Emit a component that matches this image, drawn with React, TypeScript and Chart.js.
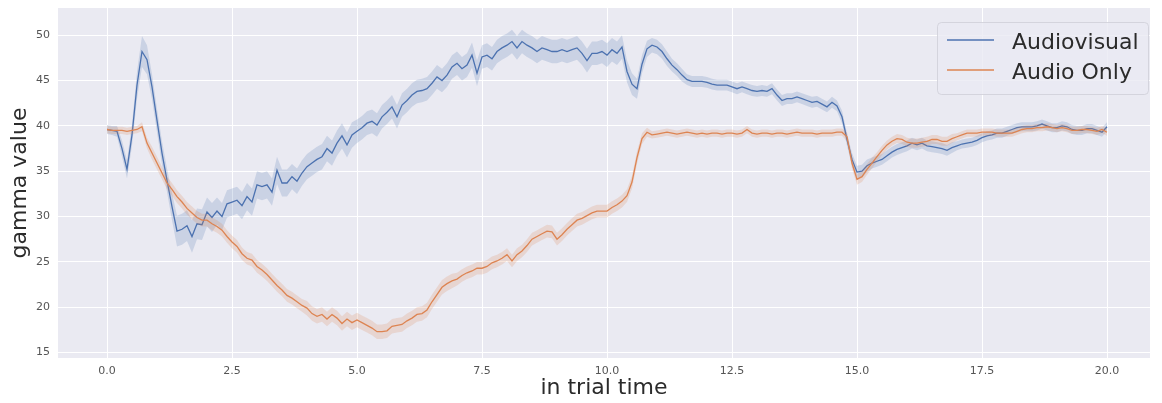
import { useEffect, useRef } from "react";
import { Chart, registerables } from "chart.js";

Chart.register(...registerables);

// Sampling grid of the trial (seconds)
const T_START = 0;
const T_STEP = 0.1;

const seriesNames = ["Audiovisual", "Audio Only"];
const xTitle = "in trial time";
const yTitle = "gamma value";

const xTickValues = [0, 2.5, 5, 7.5, 10, 12.5, 15, 17.5, 20];
const xTickLabels = ["0.0", "2.5", "5.0", "7.5", "10.0", "12.5", "15.0", "17.5", "20.0"];
const yTickValues = [15, 20, 25, 30, 35, 40, 45, 50];
const yTickLabels = ["15", "20", "25", "30", "35", "40", "45", "50"];

// Mean gamma value per time step
const audiovisualMean = [
  39.6, 39.5, 39.4, 37.5, 35.2, 39.0, 44.5, 48.2, 47.3, 44.3,
  40.6, 37.0, 34.0, 31.1, 28.4, 28.6, 29.0, 27.8, 29.2, 29.1,
  30.5, 29.9, 30.6, 30.0, 31.4, 31.6, 31.8, 31.2, 32.2, 31.6,
  33.5, 33.3, 33.5, 32.7, 35.1, 33.7, 33.7, 34.4, 33.9, 34.8,
  35.5, 35.9, 36.3, 36.6, 37.5, 37.0, 38.1, 38.9, 37.9, 39.0,
  39.4, 39.8, 40.3, 40.5, 40.1, 41.0, 41.5, 42.1, 41.0, 42.3,
  42.8, 43.4, 43.8, 43.9, 44.1, 44.7, 45.4, 45.0, 45.6, 46.5,
  46.9, 46.3, 46.7, 47.8, 45.8, 47.6, 47.8, 47.4, 48.2, 48.6,
  48.9, 49.3, 48.6, 49.3, 48.9, 48.6, 48.2, 48.6, 48.4, 48.2,
  48.2, 48.4, 48.2, 48.4, 48.6, 48.0, 47.2, 48.0, 48.0, 48.2,
  47.8, 48.4, 48.0, 48.7, 46.0, 44.6, 44.1, 46.8, 48.5, 48.9,
  48.7, 48.2, 47.4, 46.7, 46.2, 45.6, 45.1, 44.9, 44.9, 44.9,
  44.8, 44.6, 44.5, 44.5, 44.5, 44.3, 44.1, 44.3, 44.1, 43.9,
  43.8, 43.9, 43.8, 44.1, 43.4, 42.8, 43.0, 43.0, 43.2, 43.0,
  42.8, 42.6, 42.7, 42.4, 42.1, 42.6, 42.2, 41.0, 38.5, 36.3,
  34.9, 35.0, 35.6, 35.9, 36.1, 36.3, 36.7, 37.1, 37.4, 37.6,
  37.8, 38.1, 37.9, 38.1, 37.8, 37.7, 37.6, 37.5, 37.3, 37.6,
  37.8, 38.0, 38.1, 38.2, 38.4, 38.7, 38.9, 39.0, 39.2, 39.2,
  39.4, 39.6, 39.8, 39.9, 39.9, 39.9, 40.0, 40.2, 40.0, 39.8,
  39.8, 40.0, 39.9, 39.6, 39.5, 39.5, 39.7, 39.7, 39.5, 39.3,
  39.9,
];

// Half-width of the confidence band
const audiovisualCI = [
  0.5, 0.5, 0.6, 0.9, 1.0, 1.2, 1.5, 1.7, 1.6, 1.4,
  1.3, 1.3, 1.3, 1.5, 1.7, 1.7, 1.7, 1.8, 1.7, 1.7,
  1.6, 1.6, 1.5, 1.5, 1.5, 1.5, 1.5, 1.5, 1.5, 1.5,
  1.5, 1.5, 1.5, 1.5, 1.5, 1.5, 1.5, 1.4, 1.4, 1.4,
  1.4, 1.4, 1.4, 1.4, 1.4, 1.4, 1.4, 1.4, 1.4, 1.4,
  1.3, 1.3, 1.3, 1.3, 1.3, 1.3, 1.3, 1.3, 1.3, 1.3,
  1.3, 1.3, 1.3, 1.3, 1.3, 1.3, 1.3, 1.3, 1.3, 1.3,
  1.3, 1.3, 1.3, 1.4, 1.4, 1.3, 1.3, 1.3, 1.3, 1.3,
  1.3, 1.3, 1.3, 1.3, 1.3, 1.3, 1.3, 1.3, 1.3, 1.3,
  1.3, 1.3, 1.3, 1.3, 1.3, 1.3, 1.3, 1.3, 1.3, 1.3,
  1.3, 1.3, 1.3, 1.3, 1.2, 1.2, 1.1, 1.0, 0.9, 0.8,
  0.8, 0.8, 0.8, 0.7, 0.7, 0.7, 0.6, 0.6, 0.6, 0.6,
  0.6, 0.6, 0.6, 0.6, 0.6, 0.6, 0.6, 0.6, 0.6, 0.6,
  0.6, 0.6, 0.6, 0.6, 0.6, 0.6, 0.6, 0.6, 0.6, 0.6,
  0.6, 0.6, 0.6, 0.6, 0.6, 0.6, 0.6, 0.7, 0.7, 0.7,
  0.7, 0.7, 0.7, 0.6, 0.6, 0.6, 0.6, 0.6, 0.6, 0.6,
  0.6, 0.6, 0.6, 0.6, 0.6, 0.6, 0.6, 0.6, 0.6, 0.6,
  0.5, 0.5, 0.5, 0.5, 0.5, 0.5, 0.5, 0.5, 0.5, 0.5,
  0.5, 0.5, 0.5, 0.5, 0.5, 0.5, 0.5, 0.5, 0.5, 0.5,
  0.5, 0.5, 0.5, 0.5, 0.5, 0.5, 0.5, 0.5, 0.5, 0.5,
  0.5,
];

const audioOnlyMean = [
  39.6, 39.5, 39.5, 39.5, 39.4, 39.5, 39.6, 39.9, 38.1, 37.0,
  35.9, 34.8, 33.7, 33.0, 32.2, 31.6, 30.9, 30.4, 29.9, 29.6,
  29.6, 29.2, 28.9, 28.5, 27.8, 27.2, 26.7, 25.9, 25.4, 25.2,
  24.5, 24.1, 23.6, 23.0, 22.4, 21.9, 21.3, 21.0, 20.6, 20.2,
  19.9, 19.3, 19.0, 19.2, 18.7, 19.2, 18.8, 18.2, 18.7, 18.3,
  18.6, 18.3, 18.0, 17.7, 17.3, 17.3, 17.4, 17.9, 18.0, 18.1,
  18.5, 18.8, 19.2, 19.3, 19.7, 20.6, 21.4, 22.2, 22.6, 22.9,
  23.1, 23.5, 23.8, 24.0, 24.3, 24.3, 24.5, 24.9, 25.1, 25.4,
  25.8, 25.1, 25.8, 26.2, 26.8, 27.5, 27.8, 28.1, 28.4, 28.3,
  27.5, 28.0, 28.6, 29.1, 29.6, 29.8, 30.1, 30.4, 30.6, 30.6,
  30.6, 31.0, 31.3, 31.7, 32.3, 33.8, 36.5, 38.6, 39.3, 39.0,
  39.1, 39.2, 39.3, 39.2, 39.1, 39.2, 39.3, 39.2, 39.1, 39.2,
  39.1, 39.2, 39.2, 39.1, 39.2, 39.2, 39.1, 39.2, 39.6, 39.2,
  39.1, 39.2, 39.2, 39.1, 39.2, 39.2, 39.1, 39.2, 39.3, 39.2,
  39.2, 39.2, 39.1, 39.2, 39.2, 39.2, 39.3, 39.3, 38.8, 35.9,
  34.1, 34.4, 35.2, 35.9, 36.6, 37.3, 37.9, 38.3, 38.6, 38.5,
  38.2, 38.1, 38.1, 38.2, 38.3, 38.5, 38.5, 38.3, 38.3, 38.6,
  38.8, 39.0, 39.2, 39.2, 39.2, 39.3, 39.3, 39.3, 39.2, 39.2,
  39.2, 39.2, 39.4, 39.6, 39.7, 39.7, 39.8, 39.8, 39.9, 39.8,
  39.7, 39.8, 39.7, 39.5, 39.5, 39.6, 39.6, 39.5, 39.4, 39.6,
  39.3,
];

const audioOnlyCI = [
  0.4, 0.4, 0.4, 0.4, 0.4, 0.4, 0.4, 0.5, 0.6, 0.7,
  0.7, 0.7, 0.7, 0.7, 0.7, 0.7, 0.7, 0.7, 0.7, 0.7,
  0.7, 0.7, 0.7, 0.7, 0.7, 0.7, 0.7, 0.7, 0.7, 0.7,
  0.7, 0.7, 0.7, 0.7, 0.7, 0.7, 0.7, 0.7, 0.7, 0.7,
  0.8, 0.8, 0.8, 0.8, 0.8, 0.8, 0.8, 0.8, 0.8, 0.8,
  0.8, 0.8, 0.8, 0.8, 0.8, 0.8, 0.8, 0.8, 0.8, 0.8,
  0.8, 0.8, 0.8, 0.8, 0.8, 0.8, 0.8, 0.8, 0.8, 0.8,
  0.7, 0.7, 0.7, 0.7, 0.7, 0.7, 0.7, 0.7, 0.7, 0.7,
  0.7, 0.7, 0.7, 0.7, 0.7, 0.7, 0.7, 0.7, 0.7, 0.7,
  0.7, 0.7, 0.7, 0.7, 0.7, 0.7, 0.7, 0.7, 0.7, 0.7,
  0.7, 0.7, 0.7, 0.7, 0.7, 0.7, 0.7, 0.6, 0.5, 0.4,
  0.4, 0.4, 0.4, 0.4, 0.4, 0.4, 0.4, 0.4, 0.4, 0.4,
  0.4, 0.4, 0.4, 0.4, 0.4, 0.4, 0.4, 0.4, 0.4, 0.4,
  0.4, 0.4, 0.4, 0.4, 0.4, 0.4, 0.4, 0.4, 0.4, 0.4,
  0.4, 0.4, 0.4, 0.4, 0.4, 0.4, 0.4, 0.4, 0.5, 0.6,
  0.6, 0.6, 0.6, 0.6, 0.5, 0.5, 0.5, 0.5, 0.5, 0.5,
  0.5, 0.5, 0.5, 0.5, 0.5, 0.5, 0.5, 0.5, 0.5, 0.5,
  0.4, 0.4, 0.4, 0.4, 0.4, 0.4, 0.4, 0.4, 0.4, 0.4,
  0.4, 0.4, 0.4, 0.4, 0.4, 0.4, 0.4, 0.4, 0.4, 0.4,
  0.4, 0.4, 0.4, 0.4, 0.4, 0.4, 0.4, 0.4, 0.4, 0.4,
  0.4,
];

const BLUE = "#4c72b0";
const ORANGE = "#dd8452";
const BLUE_BAND = "rgba(76, 114, 176, 0.2)";
const ORANGE_BAND = "rgba(221, 132, 82, 0.2)";
const FONT = "'DejaVu Sans', 'Liberation Sans', sans-serif";

const times = audiovisualMean.map((_, i) => +(T_START + i * T_STEP).toFixed(1));
const points = (vals: number[]) => vals.map((v, i) => ({ x: times[i], y: v }));
const shifted = (vals: number[], hw: number[], sign: number) =>
  vals.map((v, i) => ({ x: times[i], y: v + sign * hw[i] }));

const bandStyle = {
  borderWidth: 0,
  borderColor: "transparent",
  pointRadius: 0,
  pointHoverRadius: 0,
};

// Paints the seaborn-like axes face behind everything
const facePlugin = {
  id: "axesFace",
  beforeDraw(chart: any) {
    const { ctx, chartArea: a } = chart;
    ctx.save();
    ctx.fillStyle = "#eaeaf2";
    ctx.fillRect(a.left, a.top, a.right - a.left, a.bottom - a.top);
    ctx.restore();
  },
};

// Legend box in the upper-right corner of the axes
const legendPlugin = {
  id: "cornerLegend",
  afterDraw(chart: any) {
    const { ctx, chartArea: a } = chart;
    const w = 211;
    const h = 72;
    const x0 = a.right - w - 2;
    const y0 = a.top + 14;
    ctx.save();
    ctx.beginPath();
    ctx.roundRect(x0 + 0.5, y0 + 0.5, w, h, 4);
    ctx.fillStyle = "rgba(234, 234, 242, 0.8)";
    ctx.fill();
    ctx.strokeStyle = "rgba(210, 210, 218, 0.9)";
    ctx.lineWidth = 1;
    ctx.stroke();
    const colors = [BLUE, ORANGE];
    ctx.font = `22px ${FONT}`;
    ctx.textBaseline = "middle";
    ctx.fillStyle = "#2b2b2b";
    seriesNames.forEach((name, i) => {
      const cy = y0 + 20 + i * 30;
      ctx.beginPath();
      ctx.moveTo(x0 + 10, cy - 2);
      ctx.lineTo(x0 + 57, cy - 2);
      ctx.strokeStyle = colors[i];
      ctx.lineWidth = 1.3;
      ctx.stroke();
      ctx.fillText(name, x0 + 75, cy + 1);
    });
    ctx.restore();
  },
};

export default function App() {
  const canvasRef = useRef<HTMLCanvasElement | null>(null);

  useEffect(() => {
    if (!canvasRef.current) return;
    const chart = new Chart(canvasRef.current, {
      type: "line",
      data: {
        datasets: [
          { label: "av-lower", data: shifted(audiovisualMean, audiovisualCI, -1), fill: false, order: 4, ...bandStyle },
          { label: "av-upper", data: shifted(audiovisualMean, audiovisualCI, 1), fill: "-1", backgroundColor: BLUE_BAND, order: 4, ...bandStyle },
          { label: seriesNames[0], data: points(audiovisualMean), borderColor: BLUE, borderWidth: 1.3, pointRadius: 0, fill: false, order: 3 },
          { label: "ao-lower", data: shifted(audioOnlyMean, audioOnlyCI, -1), fill: false, order: 2, ...bandStyle },
          { label: "ao-upper", data: shifted(audioOnlyMean, audioOnlyCI, 1), fill: "-1", backgroundColor: ORANGE_BAND, order: 2, ...bandStyle },
          { label: seriesNames[1], data: points(audioOnlyMean), borderColor: ORANGE, borderWidth: 1.3, pointRadius: 0, fill: false, order: 1 },
        ],
      },
      options: {
        animation: false,
        responsive: true,
        maintainAspectRatio: false,
        events: [],
        layout: { padding: { left: 0, right: 12, top: 8, bottom: 0 } },
        plugins: {
          legend: { display: false },
          tooltip: { enabled: false },
        },
        scales: {
          x: {
            type: "linear",
            min: -0.98,
            max: 20.86,
            border: { display: false },
            grid: { color: "#ffffff", lineWidth: 1, drawTicks: false },
            afterBuildTicks: (scale: any) => {
              scale.ticks = xTickValues.map((v) => ({ value: v }));
            },
            afterFit: (scale: any) => {
              scale.height = 45;
              scale.paddingLeft = 0;
              scale.paddingRight = 0;
            },
            ticks: {
              padding: 7,
              color: "#555555",
              font: { family: FONT, size: 11 },
              maxRotation: 0,
              autoSkip: false,
              callback: (v: any) => xTickLabels[xTickValues.indexOf(Number(v))] ?? "",
            },
            title: {
              display: true,
              text: xTitle,
              color: "#2b2b2b",
              font: { family: FONT, size: 22 },
              padding: { top: 0, bottom: 2 },
            },
          },
          y: {
            type: "linear",
            min: 14.4,
            max: 53,
            border: { display: false },
            grid: { color: "#ffffff", lineWidth: 1, drawTicks: false },
            afterBuildTicks: (scale: any) => {
              scale.ticks = yTickValues.map((v) => ({ value: v }));
            },
            afterFit: (scale: any) => {
              scale.width = 58;
              scale.paddingTop = 0;
              scale.paddingBottom = 0;
            },
            ticks: {
              padding: 8,
              color: "#555555",
              font: { family: FONT, size: 11 },
              autoSkip: false,
              callback: (v: any) => yTickLabels[yTickValues.indexOf(Number(v))] ?? "",
            },
            title: {
              display: true,
              text: yTitle,
              color: "#2b2b2b",
              font: { family: FONT, size: 22 },
              padding: { top: 7, bottom: 0 },
            },
          },
        },
      },
      plugins: [facePlugin, legendPlugin],
    } as any);
    return () => chart.destroy();
  }, []);

  return (
    <div style={{ position: "fixed", left: 0, top: 0, width: 1162, height: 403, background: "#ffffff" }}>
      <canvas ref={canvasRef} />
    </div>
  );
}
